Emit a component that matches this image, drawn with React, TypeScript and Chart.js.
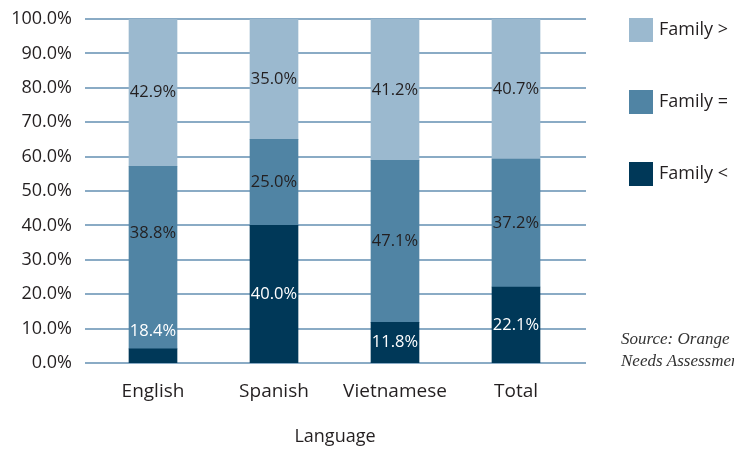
import React, { useEffect, useRef } from "react";
import { Chart, registerables } from "chart.js";

Chart.register(...registerables);

const categories = ["English", "Spanish", "Vietnamese", "Total"];
// segment heights as drawn in the picture
const lessValues = [4.1, 40.0, 11.8, 22.1];
const equalValues = [53.1, 25.0, 47.1, 37.2];
const greaterValues = [42.9, 35.0, 41.2, 40.7];
// printed labels
const lessLabels = [18.4, 40.0, 11.8, 22.1];
const equalLabels = [38.8, 25.0, 47.1, 37.2];
const greaterLabels = [42.9, 35.0, 41.2, 40.7];
const seriesNames = ["Family <", "Family =", "Family >"];
const yTicks = [0, 10, 20, 30, 40, 50, 60, 70, 80, 90, 100];
const axisTitle = "Language";
const sourceLines = ["Source: Orange County", "Needs Assessment"];

const COLORS = ["#003858", "#5084a4", "#9bb9cf"];
const TEXT = "#231f20";
const FONT = "'Open Sans', 'Noto Sans', sans-serif";

export default function App() {
  const ref = useRef<HTMLCanvasElement>(null);
  useEffect(() => {
    const canvas = ref.current!;
    const overlay = {
      id: "overlay",
      beforeDatasetsDraw(chart: any) {
        const ctx = chart.ctx;
        const y = chart.scales.y;
        ctx.save();
        ctx.fillStyle = "#8aabc5";
        for (const v of yTicks) {
          const py = Math.round(y.getPixelForValue(v));
          ctx.fillRect(85, py - 1, 501, 2);
        }
        ctx.restore();
      },
      afterDatasetsDraw(chart: any) {
        const ctx = chart.ctx;
        const y = chart.scales.y;
        ctx.save();
        ctx.font = `16.5px ${FONT}`;
        ctx.textAlign = "center";
        ctx.textBaseline = "middle";
        const metas = [0, 1, 2].map((d) => chart.getDatasetMeta(d));
        categories.forEach((_, i) => {
          const x = metas[0].data[i].x;
          const a = lessLabels[i];
          const b = equalLabels[i];
          const c = greaterLabels[i];
          const items: [number, number, string][] = [
            [a / 2, a, "#ffffff"],
            [a + b / 2, b, TEXT],
            [Math.min(a + b + c, 100) - c / 2, c, TEXT],
          ];
          items.forEach(([pos, val, col]) => {
            ctx.fillStyle = col;
            ctx.fillText(val.toFixed(1) + "%", x, y.getPixelForValue(pos));
          });
        });
        // axis title
        ctx.fillStyle = TEXT;
        ctx.font = `18px ${FONT}`;
        ctx.fillText(axisTitle, 335, 437);
        // legend
        const order = [2, 1, 0];
        ctx.textAlign = "left";
        order.forEach((d, k) => {
          const top = 18 + k * 72;
          ctx.fillStyle = COLORS[d];
          ctx.fillRect(629, top, 24, 24);
          ctx.fillStyle = TEXT;
          ctx.font = `18px ${FONT}`;
          ctx.fillText(seriesNames[d], 659, top + 12);
        });
        // source
        ctx.font = `italic 17px 'Liberation Serif', serif`;
        ctx.fillStyle = "#333333";
        ctx.textBaseline = "alphabetic";
        ctx.fillText(sourceLines[0], 621, 344);
        ctx.fillText(sourceLines[1], 621, 366);
        ctx.restore();
      },
    };
    const chart = new Chart(canvas, {
      type: "bar",
      data: {
        labels: categories,
        datasets: [
          { label: seriesNames[0], data: lessValues, backgroundColor: COLORS[0] },
          { label: seriesNames[1], data: equalValues, backgroundColor: COLORS[1] },
          { label: seriesNames[2], data: greaterValues, backgroundColor: COLORS[2] },
        ].map((d) => ({ ...d, barThickness: 48, borderWidth: 0 })),
      },
      options: {
        responsive: false,
        animation: false,
        layout: { padding: { left: 0, right: 157.5, top: 19, bottom: 0 } },
        plugins: { legend: { display: false }, tooltip: { enabled: false } },
        scales: {
          x: {
            stacked: true,
            grid: { display: false, drawTicks: false },
            border: { display: false },
            ticks: { font: { family: FONT, size: 19 }, color: TEXT, padding: 17 },
            afterFit: (s: any) => {
              s.height = 86;
              s.paddingLeft = 0;
              s.paddingRight = 0;
            },
          },
          y: {
            stacked: true,
            min: 0,
            max: 100,
            grid: { display: false, drawTicks: false },
            border: { display: false },
            ticks: {
              stepSize: 10,
              font: { family: FONT, size: 18 },
              color: TEXT,
              padding: 20.5,
              callback: (v: any) => Number(v).toFixed(1) + "%",
            },
            afterFit: (s: any) => {
              s.width = 92.5;
              s.paddingTop = 0;
              s.paddingBottom = 0;
            },
          },
        },
      },
      plugins: [overlay],
    });
    return () => chart.destroy();
  }, []);
  return (
    <div style={{ position: "fixed", left: 0, top: 0, width: 734, height: 449, background: "#fff" }}>
      <canvas ref={ref} width={734} height={449} style={{ display: "block" }} />
    </div>
  );
}
